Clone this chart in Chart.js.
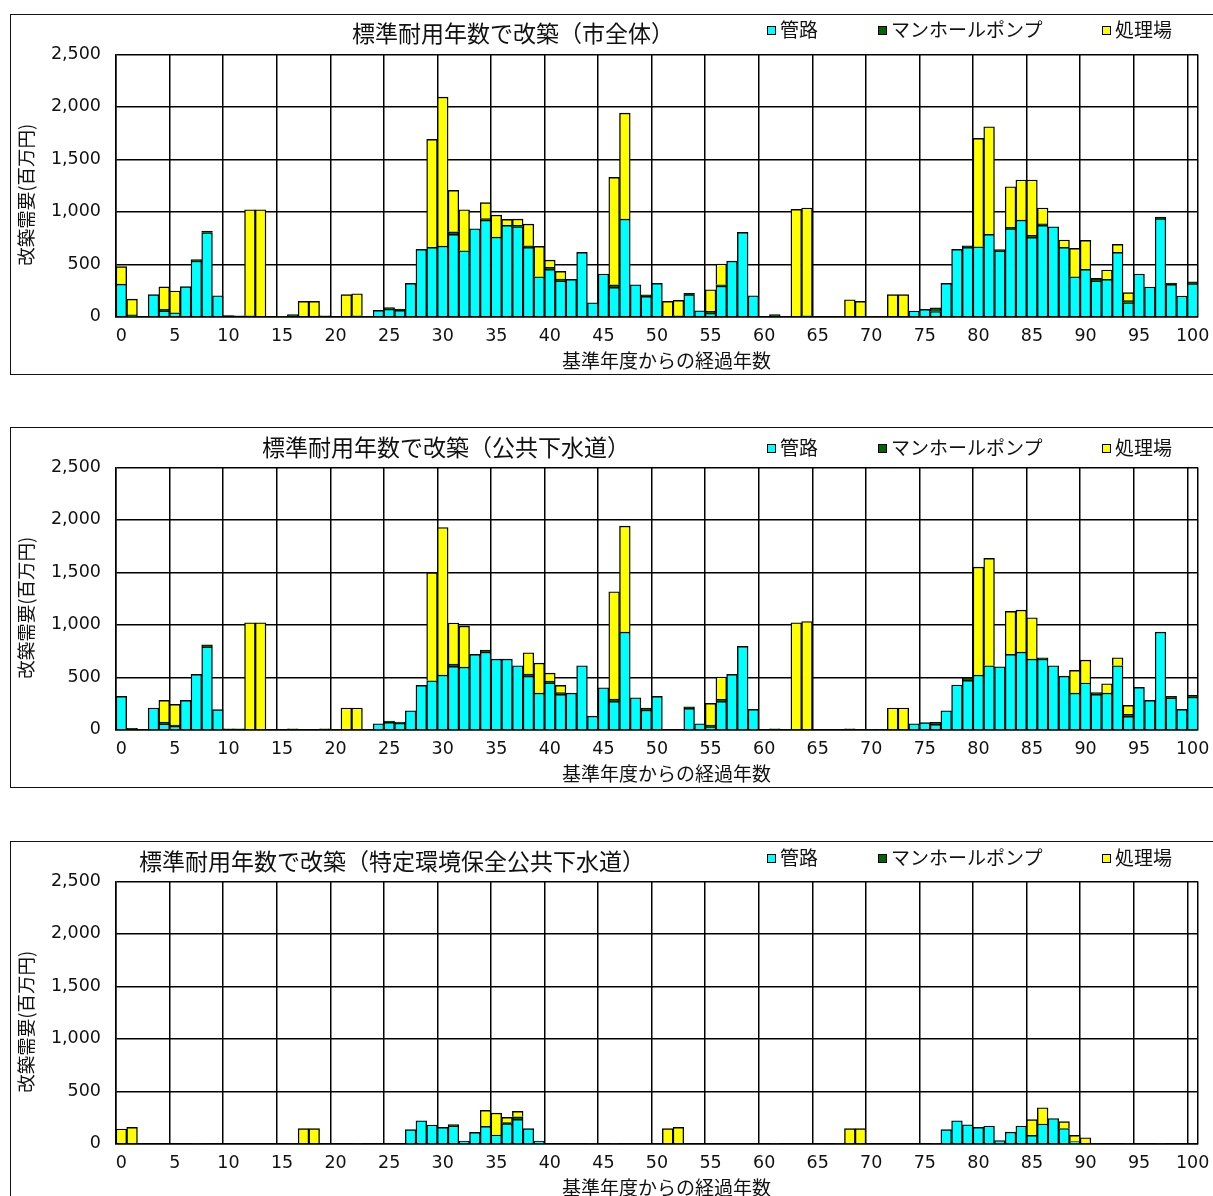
<!DOCTYPE html>
<html>
<head>
<meta charset="utf-8">
<script src="https://cdn.jsdelivr.net/npm/chart.js@4/dist/chart.umd.min.js"></script>
<style>
body { margin: 0; width: 1213px; height: 1196px; overflow: hidden; background: #fff; font-family: 'Noto Sans CJK JP', sans-serif; color: #111; }
.box { position: absolute; left: 10px; width: 1215px; height: 359px; border: 1px solid #111; }
.box canvas { position: absolute; left: 0; top: 0; }
.ttl { position: absolute; font-size: 23px; line-height: 1; white-space: nowrap; }
.lg { position: absolute; font-size: 19px; line-height: 1; white-space: nowrap; }
.lg i { display: inline-block; width: 7px; height: 7px; border: 1px solid #000; margin-right: 4px; vertical-align: 2px; }
</style>
</head>
<body>
<div class="box" style="top:14px"><canvas id="c1" width="1202" height="359"></canvas></div>
<div class="box" style="top:427px"><canvas id="c2" width="1202" height="359"></canvas></div>
<div class="box" style="top:841px"><canvas id="c3" width="1202" height="359"></canvas></div>
<script>
// Categories: years after the base year
const years = Array.from({length: 101}, (_, i) => String(i));

const seriesNames = ['管路', 'マンホールポンプ', '処理場'];
const seriesColors = ['#00FFFF', '#006600', '#FFFF00'];

const chartTitles = [
    '標準耐用年数で改築（市全体）',
    '標準耐用年数で改築（公共下水道）',
    '標準耐用年数で改築（特定環境保全公共下水道）'
];

const yTicks = [0, 500, 1000, 1500, 2000, 2500];

// 市全体
const cityPipe = [
    310, 5, 0, 210, 55, 38, 286, 530, 800, 200,
    0, 0, 0, 0, 0, 0, 0, 0, 0, 0,
    0, 0, 0, 0, 60, 72, 60, 318, 642, 661,
    673, 785, 629, 839, 920, 759, 870, 858, 661, 381,
    451, 340, 356, 613, 133, 407, 280, 931, 305, 194,
    318, 0, 0, 210, 57, 32, 292, 530, 804, 200,
    0, 0, 0, 0, 0, 0, 0, 0, 0, 0,
    0, 0, 0, 0, 54, 70, 50, 318, 642, 661,
    667, 785, 626, 839, 921, 756, 870, 858, 661, 381,
    451, 340, 356, 613, 133, 407, 283, 934, 308, 197,
    315
];
const cityPump = [
    0, 12, 0, 0, 15, 0, 0, 15, 16, 0,
    10, 8, 8, 0, 0, 3, 20, 0, 0, 8,
    0, 0, 8, 6, 0, 14, 13, 0, 0, 0,
    0, 25, 0, 0, 15, 0, 0, 12, 15, 0,
    20, 18, 0, 0, 0, 0, 25, 0, 0, 15,
    0, 0, 8, 12, 0, 20, 12, 0, 0, 0,
    0, 20, 0, 0, 8, 0, 0, 6, 0, 0,
    5, 5, 0, 0, 0, 0, 35, 0, 0, 15,
    0, 0, 15, 12, 0, 20, 15, 0, 0, 0,
    0, 25, 0, 0, 20, 0, 0, 15, 12, 0,
    18
];
const cityPlant = [
    167, 150, 0, 0, 215, 207, 0, 0, 0, 0,
    0, 0, 1012, 1020, 0, 0, 0, 146, 146, 0,
    0, 210, 211, 0, 0, 0, 0, 0, 0, 1029,
    1421, 394, 391, 0, 152, 210, 58, 61, 207, 289,
    69, 74, 0, 0, 0, 0, 1023, 1010, 0, 0,
    0, 146, 148, 0, 0, 205, 198, 0, 0, 0,
    0, 0, 0, 1023, 1028, 0, 0, 0, 162, 146,
    0, 0, 210, 210, 0, 0, 0, 0, 0, 0,
    1033, 1026, 0, 388, 382, 527, 151, 0, 70, 270,
    277, 0, 89, 76, 76, 0, 0, 0, 0, 0,
    0
];

// 公共下水道
const publicPipe = [
    318, 0, 0, 207, 54, 32, 280, 527, 788, 191,
    0, 0, 0, 0, 0, 0, 0, 0, 0, 0,
    0, 0, 0, 0, 57, 70, 62, 181, 423, 467,
    521, 604, 597, 718, 740, 673, 673, 610, 511, 349,
    445, 337, 349, 610, 130, 400, 270, 931, 305, 187,
    318, 0, 0, 203, 57, 25, 270, 527, 794, 194,
    0, 0, 0, 0, 0, 0, 0, 0, 0, 0,
    0, 0, 0, 0, 57, 67, 51, 181, 426, 470,
    521, 610, 600, 718, 740, 673, 673, 610, 511, 349,
    445, 337, 349, 610, 127, 403, 280, 931, 302, 194,
    311
];
const publicPump = [
    0, 12, 0, 0, 18, 12, 0, 0, 22, 0,
    8, 8, 0, 0, 0, 0, 8, 0, 0, 8,
    0, 0, 0, 5, 0, 13, 11, 0, 0, 0,
    0, 22, 0, 0, 19, 0, 0, 0, 19, 0,
    19, 16, 0, 0, 0, 0, 22, 0, 0, 19,
    0, 0, 0, 16, 0, 19, 19, 0, 0, 0,
    0, 8, 0, 0, 0, 0, 0, 0, 8, 0,
    5, 5, 0, 0, 0, 0, 19, 0, 0, 29,
    0, 0, 0, 0, 0, 0, 13, 0, 0, 0,
    0, 16, 0, 0, 19, 0, 0, 0, 16, 0,
    16
];
const publicPlant = [
    0, 0, 0, 0, 208, 197, 0, 0, 0, 0,
    0, 0, 1020, 1020, 0, 0, 0, 0, 0, 0,
    0, 207, 207, 0, 0, 0, 0, 0, 0, 1029,
    1407, 391, 391, 0, 0, 0, 0, 0, 204, 286,
    76, 69, 0, 0, 0, 0, 1023, 1010, 0, 0,
    0, 0, 0, 0, 0, 207, 213, 0, 0, 0,
    0, 0, 0, 1020, 1032, 0, 0, 0, 0, 0,
    0, 0, 207, 207, 0, 0, 0, 0, 0, 0,
    1029, 1023, 0, 410, 400, 394, 0, 0, 0, 216,
    219, 0, 89, 76, 86, 0, 0, 0, 0, 0,
    0
];

// 特定環境保全公共下水道
const specialPipe = [
    0, 0, 0, 0, 0, 0, 0, 0, 0, 0,
    0, 0, 0, 0, 0, 0, 0, 0, 0, 0,
    0, 0, 0, 0, 0, 0, 0, 134, 219, 178,
    156, 169, 25, 108, 165, 83, 191, 232, 143, 25,
    0, 0, 0, 0, 0, 0, 0, 0, 0, 0,
    0, 0, 0, 0, 0, 0, 0, 0, 0, 0,
    0, 0, 0, 0, 0, 0, 0, 0, 0, 0,
    0, 0, 0, 0, 0, 0, 0, 134, 219, 181,
    156, 169, 30, 111, 169, 80, 188, 240, 145, 20,
    0, 0, 0, 0, 0, 0, 0, 0, 0, 0,
    0
];
const specialPump = [
    0, 0, 0, 0, 0, 0, 0, 5, 0, 0,
    0, 0, 0, 0, 0, 0, 5, 0, 0, 0,
    0, 0, 5, 0, 0, 0, 0, 0, 0, 0,
    0, 13, 0, 0, 0, 0, 10, 25, 0, 0,
    0, 0, 0, 0, 5, 0, 5, 0, 0, 0,
    0, 0, 0, 0, 0, 0, 0, 0, 0, 0,
    0, 5, 0, 0, 0, 0, 0, 5, 0, 0,
    0, 0, 0, 0, 0, 0, 5, 0, 0, 0,
    0, 0, 0, 0, 0, 0, 0, 0, 0, 0,
    0, 5, 0, 0, 5, 0, 0, 5, 0, 0,
    0
];
const specialPlant = [
    140, 156, 0, 0, 0, 0, 0, 0, 0, 0,
    0, 0, 0, 0, 0, 0, 0, 143, 143, 0,
    0, 0, 0, 0, 0, 0, 0, 0, 0, 0,
    0, 0, 0, 0, 153, 209, 50, 51, 0, 0,
    0, 0, 0, 0, 0, 0, 0, 0, 0, 0,
    0, 143, 156, 0, 0, 0, 0, 0, 0, 0,
    0, 0, 0, 0, 0, 0, 0, 0, 143, 143,
    0, 0, 0, 0, 0, 0, 0, 0, 0, 0,
    0, 0, 0, 0, 0, 149, 155, 0, 65, 60,
    57, 0, 0, 0, 0, 0, 0, 0, 0, 0,
    0
];

Chart.defaults.font.family = "'Noto Sans CJK JP', sans-serif";
Chart.defaults.color = '#111';

// title / legend placement inside each box: [title left, title center y, legend center y]
const headerPos = [[341, 17.5, 14], [251, 18, 19], [128, 18, 15]];
const legendX = [756, 867, 1091];

const add_header = (canvasId, n) => {
    const box = document.getElementById(canvasId).parentNode;
    const [tx, ty, ly] = headerPos[n];
    const t = document.createElement('div');
    t.className = 'ttl';
    t.textContent = chartTitles[n];
    t.style.left = tx + 'px';
    t.style.top = (ty - 11.5) + 'px';
    box.appendChild(t);
    seriesNames.forEach((name, k) => {
        const d = document.createElement('div');
        d.className = 'lg';
        d.innerHTML = '<i style="background:' + seriesColors[k] + '"></i>' + name;
        d.style.left = legendX[k] + 'px';
        d.style.top = (ly - 10) + 'px';
        box.appendChild(d);
    });
};

const numFont = { family: "'DejaVu Sans', sans-serif", size: 17.5 };

const render_chart = (canvasId, n, pipe, pump, plant) => {
    const values = [pipe, pump, plant];
    new Chart(document.getElementById(canvasId), {
        type: 'bar',
        data: {
            labels: years,
            datasets: seriesNames.map((name, k) => ({
                label: name,
                data: values[k],
                backgroundColor: seriesColors[k],
                borderColor: '#000',
                borderWidth: 1.4,
                categoryPercentage: 1,
                barPercentage: 1
            }))
        },
        options: {
            responsive: false,
            animation: false,
            layout: { padding: { top: 39.5, right: 15, bottom: 0, left: 0 } },
            plugins: { legend: { display: false }, tooltip: { enabled: false } },
            scales: {
                x: {
                    stacked: true,
                    offset: true,
                    grid: {
                        offset: true,
                        drawTicks: false,
                        lineWidth: 1.5,
                        color: c => (c.index === undefined || c.index % 5 === 0) ? '#000' : 'rgba(0,0,0,0)'
                    },
                    border: { color: '#000', width: 1.5 },
                    ticks: {
                        autoSkip: false,
                        maxRotation: 0,
                        padding: 9,
                        font: numFont,
                        callback: (v, i) => i % 5 === 0 ? years[i] : ''
                    },
                    title: { display: true, text: '\u3000基準年度からの経過年数', font: { size: 19 }, padding: { top: 0, bottom: 2 } },
                    afterFit: s => { s.height = 57.3; s.paddingRight = 0; }
                },
                y: {
                    stacked: true,
                    min: 0,
                    max: 2500,
                    afterBuildTicks: s => { s.ticks = yTicks.map(v => ({ value: v })); },
                    grid: { color: '#000', drawTicks: false, lineWidth: 1.5 },
                    border: { color: '#000', width: 1.5 },
                    ticks: {
                        padding: 15,
                        font: numFont,
                        callback: v => v.toLocaleString('en-US')
                    },
                    title: { display: true, text: '改築需要(百万円)\u3000', font: { size: 18.5 }, padding: { top: 4, bottom: 4 } },
                    afterFit: s => { s.width = 105; }
                }
            }
        }
    });
    add_header(canvasId, n);
};

render_chart('c1', 0, cityPipe, cityPump, cityPlant);
render_chart('c2', 1, publicPipe, publicPump, publicPlant);
render_chart('c3', 2, specialPipe, specialPump, specialPlant);
</script>
</body>
</html>
